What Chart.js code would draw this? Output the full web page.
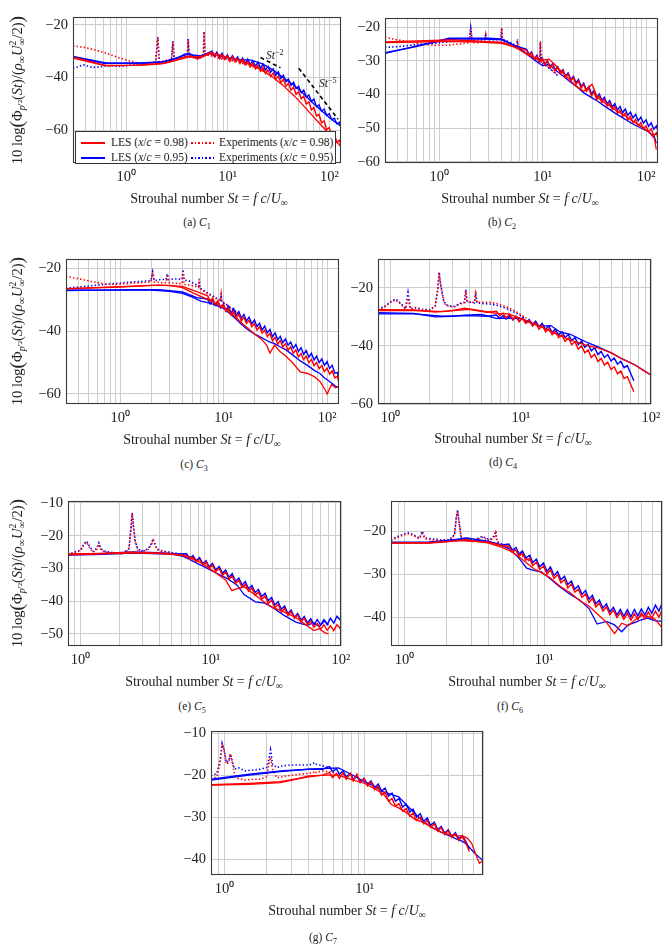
<!DOCTYPE html>
<html><head><meta charset="utf-8">
<script src="https://cdn.jsdelivr.net/npm/chart.js@4.4.0/dist/chart.umd.min.js"></script>
<style>
html,body{margin:0;padding:0;background:#fff;}
#page{position:relative;width:663px;height:948px;overflow:hidden;background:#fff;font-family:'Liberation Serif','Times New Roman',serif;color:#222;}
canvas{position:absolute;}
.t{position:absolute;white-space:nowrap;transform:translate(-50%,-50%);font-size:14px;line-height:1;}
.cap{font-size:11.5px;}
.yl{position:absolute;white-space:nowrap;transform:translate(-50%,-50%) rotate(-90deg);font-size:14.5px;line-height:1;}
.bp{font-size:135%;vertical-align:-0.08em;}
.st{display:inline-block;vertical-align:-0.4em;font-size:68%;line-height:0.95;text-align:left;}
.st span{display:block;}
sub{font-size:70%;vertical-align:-0.3em;line-height:0;}
sup{font-size:70%;vertical-align:0.5em;line-height:0;}
#leg{position:absolute;left:75px;top:131px;width:259px;height:31px;border:1px solid #333;background:#fff;font-size:11.5px;z-index:5;}
#leg .s{position:absolute;width:24px;height:1.6px;}
#leg .lt{position:absolute;white-space:nowrap;transform:translateY(-50%);line-height:1;}
.ann{position:absolute;white-space:nowrap;font-size:11.5px;line-height:1;z-index:5;}
</style>
</head><body>
<div id="page">
  <div class="yl" style="left:17px;top:90px;">10 log<span class="bp">(</span>Φ<sub><i>p</i>′²</sub>(<i>St</i>)/(<i>ρ</i><sub>∞</sub><i>U</i><span class="st"><span>2</span><span>∞</span></span>/2)<span class="bp">)</span></div>
  <div class="yl" style="left:17px;top:331px;">10 log<span class="bp">(</span>Φ<sub><i>p</i>′²</sub>(<i>St</i>)/(<i>ρ</i><sub>∞</sub><i>U</i><span class="st"><span>2</span><span>∞</span></span>/2)<span class="bp">)</span></div>
  <div class="yl" style="left:17px;top:573px;">10 log<span class="bp">(</span>Φ<sub><i>p</i>′²</sub>(<i>St</i>)/(<i>ρ</i><sub>∞</sub><i>U</i><span class="st"><span>2</span><span>∞</span></span>/2)<span class="bp">)</span></div>

  <div class="t" style="left:209px;top:199px;">Strouhal number <i>St</i> = <i>f c</i>/<i>U</i><sub>∞</sub></div>
  <div class="t" style="left:520px;top:199px;">Strouhal number <i>St</i> = <i>f c</i>/<i>U</i><sub>∞</sub></div>
  <div class="t" style="left:202px;top:440px;">Strouhal number <i>St</i> = <i>f c</i>/<i>U</i><sub>∞</sub></div>
  <div class="t" style="left:513px;top:439px;">Strouhal number <i>St</i> = <i>f c</i>/<i>U</i><sub>∞</sub></div>
  <div class="t" style="left:204px;top:682px;">Strouhal number <i>St</i> = <i>f c</i>/<i>U</i><sub>∞</sub></div>
  <div class="t" style="left:527px;top:682px;">Strouhal number <i>St</i> = <i>f c</i>/<i>U</i><sub>∞</sub></div>
  <div class="t" style="left:347px;top:911px;">Strouhal number <i>St</i> = <i>f c</i>/<i>U</i><sub>∞</sub></div>

  <div class="t cap" style="left:197px;top:223px;">(a) <i>C</i><sub>1</sub></div>
  <div class="t cap" style="left:502px;top:223px;">(b) <i>C</i><sub>2</sub></div>
  <div class="t cap" style="left:194px;top:465px;">(c) <i>C</i><sub>3</sub></div>
  <div class="t cap" style="left:503px;top:463px;">(d) <i>C</i><sub>4</sub></div>
  <div class="t cap" style="left:192px;top:707px;">(e) <i>C</i><sub>5</sub></div>
  <div class="t cap" style="left:510px;top:707px;">(f) <i>C</i><sub>6</sub></div>
  <div class="t cap" style="left:323px;top:938px;">(g) <i>C</i><sub>7</sub></div>

  <div class="ann" style="left:266px;top:50px;"><i>St</i><sup>−2</sup></div>
  <div class="ann" style="left:319px;top:78px;"><i>St</i><sup>−5</sup></div>

  <div id="leg">
    <span class="s" style="left:5px;top:10px;background:#ff0000;"></span>
    <span class="lt" style="left:35px;top:11px;">LES (<i>x</i>/<i>c</i> = 0.98)</span>
    <span class="s" style="left:115px;top:10px;background:repeating-linear-gradient(to right,#ff0000 0 1.6px,transparent 1.6px 3.6px);"></span>
    <span class="lt" style="left:143px;top:11px;">Experiments (<i>x</i>/<i>c</i> = 0.98)</span>
    <span class="s" style="left:5px;top:25px;background:#0000ff;"></span>
    <span class="lt" style="left:35px;top:26px;">LES (<i>x</i>/<i>c</i> = 0.95)</span>
    <span class="s" style="left:115px;top:25px;background:repeating-linear-gradient(to right,#0000ff 0 1.6px,transparent 1.6px 3.6px);"></span>
    <span class="lt" style="left:143px;top:26px;">Experiments (<i>x</i>/<i>c</i> = 0.95)</span>
  </div>
</div>
<script>
// ---------- shared St grids for the resolved (noisy) LES spectra ----------
const stHiABC = [0.3, 0.6, 1.2, 2.4, 4, 5.5, 7, 7.4, 7.8, 8.3, 8.8, 9.3, 9.9, 10.5, 11.1, 11.8, 12.5, 13.2, 14, 14.8, 15.7, 16.6, 17.6, 18.7, 19.8, 21, 22.2, 23.5, 24.9, 26.4, 28, 29.6, 31.4, 33.3, 35.2, 37.3, 39.5, 41.9, 44.4, 47, 49.8, 52.8, 55.9, 59.2, 62.8, 66.5, 70.4, 74.6, 79, 83.7, 88.7, 94, 99.6, 105.5, 111.8, 118.4, 125.5, 130];
const stHiDE = [0.8, 1.5, 2.5, 4, 5.5, 6.5, 6.9, 7.3, 7.7, 8.2, 8.7, 9.2, 9.7, 10.3, 10.9, 11.6, 12.3, 13, 13.8, 14.6, 15.5, 16.4, 17.4, 18.4, 19.5, 20.7, 21.9, 23.2, 24.6, 26.1, 27.6, 29.3, 31, 32.9, 34.8, 36.9, 39.1, 41.4, 43.9, 46.5, 49.3, 52.2, 55.3, 58.6, 62.1, 65.8, 69.7, 73.9, 78.3, 83, 87.9, 93.1, 98.7, 100];
const stHiFG = [0.8, 1.5, 2.5, 4, 5, 5.6, 5.9, 6.3, 6.6, 7, 7.4, 7.9, 8.3, 8.8, 9.3, 9.9, 10.5, 11.1, 11.8, 12.5, 13.2, 14, 14.8, 15.7, 16.6, 17.6, 18.7, 19.8, 21, 22.2, 23.5, 24.9, 26.4, 28, 29.6, 31.4, 33.3, 35.2, 37.3, 39.5, 41.9, 44.4, 47, 49.8, 52.8, 55.9, 59.2, 62.8, 66.5, 70];

// ---------- (a) C1 ----------
const stA_les = [0.3, 0.65, 1.5, 2.2, 3, 3.8, 4.3, 5, 5.6, 6.5, 8, 10, 13, 17, 22, 28, 35, 45, 55, 68, 80, 95, 110, 130];
const lesA_r1 = [-32.3, -35.6, -35.3, -34.8, -33.5, -32.2, -31.8, -33.0, -32.3, -31.0, -31.2, -32.3, -33.5, -35.2, -37.4, -40.0, -43.0, -47.0, -50.5, -54.5, -57.5, -60.5, -63.0, -66.5];
const lesA_b1 = [-32.0, -34.5, -34.5, -34.2, -33.2, -31.0, -31.0, -32.8, -31.5, -30.8, -31.5, -32.5, -33.2, -33.4, -34.8, -37.2, -40.0, -43.0, -46.0, -49.5, -52.0, -54.5, -56.5, -58.5];
const lesA_r2 = [-32.6, -35.4, -35.4, -34.6, -32.3, -32.0, -30.4, -32.2, -30.9, -32.9, -31.3, -33.1, -31.8, -33.9, -32.1, -34.0, -32.8, -34.7, -33.1, -35.2, -33.9, -36.0, -34.6, -36.7, -35.3, -37.6, -36.2, -38.5, -37.1, -39.5, -38.3, -40.8, -39.5, -42.0, -40.7, -43.3, -42.2, -44.8, -43.6, -46.4, -45.3, -48.1, -47.1, -50.1, -49.2, -52.3, -51.4, -54.6, -54.0, -57.2, -56.5, -59.8, -59.1, -62.3, -61.5, -64.6, -63.8, -66.0];
const lesA_b2 = [-32.2, -34.6, -34.6, -34.0, -31.2, -31.8, -30.0, -31.8, -30.4, -32.3, -30.8, -32.9, -31.4, -33.3, -31.7, -33.6, -32.2, -34.1, -32.6, -34.6, -33.0, -35.1, -33.6, -35.7, -34.3, -36.4, -34.9, -37.1, -35.8, -38.0, -36.7, -39.2, -37.8, -40.4, -39.1, -41.6, -40.6, -43.0, -41.8, -44.2, -43.3, -45.8, -44.8, -47.4, -46.6, -49.1, -48.2, -51.1, -50.4, -52.8, -52.0, -54.4, -53.8, -56.0, -55.5, -57.6, -57.0, -58.6];
const stA_exp = [0.3, 0.38, 0.47, 0.58, 0.72, 0.9, 1.1, 1.35, 1.65, 1.95, 2.05, 2.12, 2.4, 2.8, 2.88, 2.96, 3.3, 3.7, 4.0, 4.08, 4.16, 4.6, 5.2, 5.75, 5.85, 5.95, 6.6, 7.5, 8.5, 10, 12, 14.5, 17.5, 21, 25];
const expA_r = [-28.0, -28.5, -29.3, -30.3, -31.5, -32.8, -33.8, -34.6, -34.5, -34.0, -24.8, -34.0, -33.6, -33.0, -26.5, -33.0, -32.8, -32.4, -31.8, -25.8, -32.0, -32.5, -32.8, -31.8, -22.6, -31.5, -31.6, -32.0, -32.8, -33.3, -34.0, -34.8, -35.8, -37.0, -38.3];
const expA_b = [-36.5, -35.2, -36.2, -35.8, -35.5, -35.8, -35.3, -35.0, -34.6, -34.2, -24.6, -34.2, -33.8, -33.2, -26.2, -33.2, -32.6, -32.0, -31.2, -25.4, -31.4, -32.0, -32.6, -31.6, -22.4, -31.2, -31.4, -32.0, -32.6, -33.0, -33.6, -34.4, -35.4, -36.4, -37.5];
const refA_st2 = [21, 33], refA_y2 = [-32.4, -36.3];
const refA_st5 = [50, 122], refA_y5 = [-36.5, -55.9];

// ---------- (b) C2 ----------
const stB_les = [0.3, 1.25, 2, 3, 4, 5, 6, 7, 8.5, 10, 11.5, 13, 15, 18, 21, 25, 30, 34, 40, 50, 60, 75, 90, 105, 120, 125];
const lesB_r1 = [-24.4, -23.8, -24.0, -24.3, -24.5, -25.5, -26.8, -28.0, -29.2, -29.8, -29.5, -31.0, -33.0, -35.5, -37.5, -39.0, -37.0, -41.0, -42.5, -44.5, -46.0, -48.0, -49.5, -51.0, -53.0, -56.3];
const lesB_b1 = [-27.8, -23.3, -23.3, -23.3, -23.5, -25.0, -26.5, -28.0, -30.0, -31.5, -31.0, -32.5, -34.0, -36.0, -37.5, -39.5, -41.0, -42.0, -43.5, -45.5, -47.0, -48.8, -50.0, -51.0, -52.5, -54.5];
const lesB_r2 = [-24.6, -24.4, -24.2, -24.4, -24.8, -26.0, -26.9, -28.2, -27.7, -29.6, -28.6, -30.3, -29.3, -31.2, -30.1, -32.2, -31.0, -33.0, -32.0, -33.9, -32.9, -35.0, -33.9, -35.9, -35.0, -37.0, -35.9, -38.1, -37.0, -39.1, -38.2, -40.4, -39.3, -41.5, -40.4, -42.4, -41.5, -43.4, -42.5, -44.5, -43.5, -45.6, -44.6, -46.5, -45.5, -47.5, -46.4, -48.4, -47.4, -49.3, -48.3, -50.2, -49.3, -51.1, -50.2, -52.2, -51.3, -53.2];
const lesB_b2 = [-27.6, -25.8, -23.6, -23.5, -23.8, -25.6, -26.6, -28.2, -27.4, -29.4, -28.3, -30.1, -29.1, -31.0, -29.9, -31.9, -30.8, -32.7, -31.7, -33.6, -32.6, -34.6, -33.6, -35.5, -34.6, -36.5, -35.5, -37.6, -36.6, -38.6, -37.6, -39.8, -38.8, -40.9, -39.8, -41.7, -40.8, -42.7, -41.8, -43.7, -42.7, -44.6, -43.5, -45.4, -44.3, -46.2, -45.2, -46.9, -45.9, -47.8, -46.7, -48.5, -47.5, -49.4, -48.4, -50.3, -49.3, -50.9];
const stB_exp = [0.3, 0.4, 0.52, 0.68, 0.9, 1.2, 1.55, 1.95, 2.02, 2.09, 2.4, 2.75, 2.82, 2.9, 3.4, 3.95, 4.02, 4.09, 4.6, 5.2, 5.62, 5.7, 5.78, 6.5, 7.5, 8.5, 9.35, 9.5, 9.65, 10.5, 12, 14];
const expB_r = [-23.0, -23.8, -24.4, -25.0, -25.4, -25.4, -25.0, -24.6, -20.3, -24.6, -24.6, -24.4, -22.2, -24.4, -24.5, -24.4, -20.4, -24.4, -24.8, -25.4, -25.8, -23.8, -26.0, -27.2, -28.4, -29.4, -30.0, -24.2, -30.4, -31.0, -32.4, -34.2];
const expB_b = [-26.0, -25.8, -25.4, -25.0, -24.8, -24.4, -24.2, -24.0, -20.2, -24.0, -23.8, -23.8, -22.0, -23.8, -23.7, -23.6, -20.2, -23.6, -24.2, -25.0, -25.6, -23.6, -25.8, -27.0, -28.4, -29.6, -30.2, -24.4, -30.6, -31.2, -32.6, -34.4];

// ---------- (c) C3 ----------
const stC_les = [0.3, 1, 2, 3, 4, 5, 6, 7, 8, 10, 11.5, 13, 15, 17, 20, 23, 26, 28, 31, 35, 40, 46, 55, 65, 75, 85, 95, 100, 110, 120, 130];
const lesC_r1 = [-26.5, -26.0, -25.5, -25.5, -26.2, -27.8, -29.0, -30.0, -30.8, -32.5, -34.0, -35.5, -37.5, -39.0, -41.0, -42.5, -44.5, -47.0, -44.5, -46.5, -48.0, -50.0, -53.0, -53.5, -54.5, -56.0, -58.5, -60.0, -57.0, -58.0, -57.5];
const lesC_b1 = [-27.0, -27.0, -27.0, -27.4, -28.0, -29.2, -30.5, -31.0, -31.5, -32.8, -34.5, -36.0, -38.0, -39.5, -41.0, -42.0, -43.0, -43.5, -44.0, -45.0, -46.0, -47.5, -49.5, -51.0, -52.5, -53.5, -55.0, -55.5, -56.5, -57.5, -58.0];
const lesC_r2 = [-26.6, -26.2, -25.8, -25.4, -25.8, -27.5, -28.8, -30.4, -29.6, -31.5, -30.3, -32.6, -31.6, -33.8, -32.6, -35.0, -33.8, -35.9, -34.7, -36.8, -35.6, -37.6, -36.6, -38.6, -37.6, -39.7, -38.6, -40.7, -39.7, -41.8, -40.7, -43.1, -42.0, -44.2, -43.0, -45.1, -44.0, -46.1, -45.0, -47.1, -46.0, -48.2, -47.1, -49.1, -48.0, -50.1, -49.0, -51.0, -50.0, -52.0, -51.0, -52.9, -51.8, -53.7, -52.6, -54.9, -54.4, -56.6];
const lesC_b2 = [-27.1, -27.0, -26.9, -26.9, -27.6, -29.4, -29.8, -31.4, -30.3, -31.9, -30.8, -32.6, -31.4, -33.4, -32.1, -34.3, -32.9, -35.0, -33.8, -35.9, -34.7, -36.8, -35.6, -37.7, -36.5, -38.6, -37.5, -39.7, -38.4, -40.6, -39.5, -41.8, -40.6, -42.8, -41.7, -43.7, -42.5, -44.5, -43.5, -45.5, -44.3, -46.5, -45.3, -47.4, -46.2, -48.3, -47.1, -49.2, -48.0, -50.0, -48.9, -50.9, -49.7, -51.9, -50.9, -53.4, -53.2, -55.6];
const stC_exp = [0.3, 0.4, 0.52, 0.7, 0.95, 1.3, 1.7, 1.98, 2.06, 2.14, 2.45, 2.78, 2.86, 2.94, 3.4, 3.95, 4.05, 4.15, 4.7, 5.3, 5.72, 5.8, 5.88, 6.6, 7.6, 8.6, 9.3, 9.45, 9.6, 10.5, 12, 14];
const expC_r = [-22.6, -23.4, -24.2, -25.0, -25.2, -24.8, -24.6, -24.4, -21.4, -24.4, -24.6, -24.6, -22.0, -24.6, -24.8, -25.0, -21.0, -25.2, -25.4, -25.8, -26.2, -23.6, -26.6, -27.6, -28.8, -29.8, -30.4, -28.4, -30.8, -31.6, -33.0, -34.8];
const expC_b = [-26.4, -26.0, -25.6, -25.2, -24.8, -24.4, -24.2, -24.0, -21.2, -24.0, -23.6, -23.6, -21.8, -23.6, -23.4, -23.6, -20.4, -23.8, -24.2, -25.0, -25.8, -23.4, -26.2, -27.4, -28.6, -29.6, -30.2, -28.0, -30.6, -31.4, -32.8, -34.6];

// ---------- (d) C4 ----------
const stD_les = [0.8, 1.5, 2.2, 3, 3.7, 5, 6.5, 8, 10, 12, 14, 17, 20, 24, 28, 33, 40, 50, 60, 75, 88, 100];
const lesD_r1 = [-27.5, -27.6, -28.4, -27.8, -27.0, -28.0, -28.8, -29.0, -30.5, -32.0, -33.2, -35.0, -36.5, -38.0, -39.0, -40.0, -40.8, -42.5, -44.5, -46.5, -48.5, -50.0];
const lesD_b1 = [-28.6, -28.8, -30.0, -29.8, -29.4, -29.2, -30.5, -30.4, -30.6, -32.2, -33.2, -33.0, -35.2, -36.0, -37.5, -39.0, -40.5, -42.5, -44.5, -46.5, -48.5, -50.0];
const lesD_r2 = [-27.8, -27.8, -28.2, -27.4, -28.4, -28.1, -29.6, -28.7, -30.4, -29.1, -31.0, -29.7, -31.7, -30.5, -32.3, -31.3, -33.2, -32.1, -34.3, -33.0, -35.2, -34.1, -36.2, -35.0, -37.2, -36.2, -38.4, -37.3, -39.6, -38.6, -41.1, -40.0, -42.4, -41.4, -44.0, -42.9, -45.4, -44.3, -46.6, -45.6, -48.1, -47.2, -49.6, -48.6, -51.2, -50.6, -53.2, -55.8];
const lesD_b2 = [-29.0, -29.0, -29.8, -29.6, -29.8, -29.4, -30.6, -29.6, -30.8, -29.6, -31.1, -30.0, -31.4, -30.3, -31.9, -30.9, -32.6, -31.5, -33.4, -32.3, -34.3, -33.2, -35.3, -34.2, -36.2, -35.2, -37.1, -36.1, -38.2, -37.2, -39.5, -38.3, -40.5, -39.5, -41.7, -40.6, -43.0, -41.9, -44.0, -43.0, -45.2, -44.2, -46.3, -45.3, -47.5, -46.8, -49.4, -52.0];
const stD_exp = [0.8, 0.9, 1.0, 1.09, 1.2, 1.3, 1.36, 1.42, 1.55, 1.75, 2.0, 2.2, 2.3, 2.36, 2.42, 2.48, 2.55, 2.65, 2.8, 3.1, 3.4, 3.7, 3.78, 3.86, 4.1, 4.4, 4.5, 4.6, 5.0, 5.8, 6.8, 8, 9.5, 11];
const expD_r = [-27.8, -26.6, -25.0, -24.2, -25.6, -27.4, -23.6, -27.4, -27.0, -27.6, -27.8, -26.4, -21.0, -15.0, -19.0, -21.6, -24.4, -26.0, -26.4, -26.6, -25.6, -25.2, -21.0, -24.8, -25.0, -25.0, -22.0, -25.0, -25.0, -25.0, -25.6, -26.8, -28.6, -30.4];
const expD_b = [-27.4, -26.4, -24.8, -23.8, -25.4, -27.2, -21.6, -27.2, -26.8, -27.4, -27.6, -26.2, -20.6, -14.6, -18.6, -21.2, -24.2, -25.8, -26.2, -26.4, -25.4, -25.0, -20.6, -24.6, -25.0, -25.2, -21.4, -25.2, -25.4, -25.6, -26.2, -27.4, -29.0, -30.8];

// ---------- (e) C5 ----------
const stE_les = [0.8, 1.5, 2, 2.6, 3.5, 5, 6, 7, 8, 9, 11, 13, 14.5, 16, 18, 22, 26, 30, 36, 45, 55, 62, 68, 75, 80];
const lesE_r1 = [-25.6, -25.4, -25.2, -25.0, -25.4, -25.6, -26.0, -26.8, -27.8, -29.0, -31.5, -33.5, -36.8, -36.2, -35.6, -38.2, -40.4, -42.0, -43.2, -45.0, -47.5, -49.0, -48.4, -49.6, -50.0];
const lesE_b1 = [-25.9, -25.7, -25.5, -25.3, -25.5, -25.6, -26.2, -27.4, -28.6, -29.6, -31.4, -32.8, -34.0, -35.2, -38.0, -40.2, -40.6, -42.0, -44.2, -46.4, -47.4, -46.6, -47.8, -46.0, -47.2];
const lesE_r2 = [-25.8, -25.5, -25.2, -25.3, -25.8, -26.0, -27.2, -26.6, -28.0, -27.2, -28.9, -28.0, -29.9, -29.0, -31.0, -30.0, -32.1, -31.1, -33.3, -32.3, -34.6, -33.6, -35.8, -34.8, -37.0, -36.0, -38.2, -37.2, -39.4, -38.4, -40.7, -39.7, -42.0, -41.0, -43.3, -42.2, -44.4, -43.2, -45.3, -44.2, -46.4, -45.2, -47.2, -46.1, -48.0, -46.8, -48.6, -47.2, -48.9, -47.5, -49.0, -47.2, -48.4, -46.8];
const lesE_b2 = [-25.7, -25.4, -25.0, -25.2, -25.6, -25.5, -26.9, -26.1, -27.6, -26.7, -28.5, -27.6, -29.5, -28.5, -30.4, -29.4, -31.5, -30.5, -32.7, -31.6, -34.0, -32.9, -35.1, -34.0, -36.2, -35.2, -37.4, -36.4, -38.6, -37.6, -39.9, -38.9, -41.2, -40.2, -42.5, -41.5, -43.8, -42.7, -44.9, -43.8, -45.8, -44.7, -46.6, -45.4, -47.2, -45.6, -47.3, -45.6, -47.2, -45.2, -46.7, -44.6, -45.8, -43.8];
const stE_exp = [0.8, 0.9, 1.0, 1.06, 1.11, 1.17, 1.25, 1.33, 1.38, 1.43, 1.55, 1.8, 2.1, 2.35, 2.43, 2.49, 2.55, 2.62, 2.75, 3.0, 3.3, 3.5, 3.6, 3.7, 3.85, 4.2, 4.8, 5.5, 6.5, 7.5];
const expE_r = [-26.0, -25.2, -24.6, -22.8, -22.0, -23.6, -25.0, -24.2, -22.6, -24.4, -25.0, -25.4, -25.6, -24.2, -18.4, -13.2, -17.6, -21.8, -24.4, -24.8, -24.2, -22.8, -21.4, -22.6, -24.2, -24.8, -25.2, -25.6, -26.4, -27.2];
const expE_b = [-25.8, -25.0, -24.4, -22.4, -21.6, -23.2, -24.8, -23.8, -22.2, -24.0, -24.8, -25.2, -25.4, -24.0, -18.0, -13.0, -17.2, -21.4, -24.2, -24.6, -24.0, -22.4, -21.0, -22.2, -24.0, -24.6, -25.0, -25.4, -26.2, -27.0];

// ---------- (f) C6 ----------
const stF_les = [0.8, 1.5, 2, 2.8, 4, 5, 5.7, 6.5, 7.5, 8.5, 9.5, 11, 13, 15.5, 18, 21, 24, 28, 32, 36, 40, 45, 50, 55, 62, 70];
const lesF_r1 = [-22.8, -22.8, -22.5, -22.0, -22.8, -23.8, -24.6, -25.8, -27.4, -28.8, -29.6, -30.8, -32.8, -34.4, -36.2, -37.4, -39.2, -41.2, -43.8, -41.4, -42.0, -40.6, -39.6, -39.8, -40.4, -42.4];
const lesF_b1 = [-22.7, -22.7, -22.2, -21.6, -22.4, -23.4, -24.2, -26.0, -28.6, -29.2, -29.4, -31.0, -33.0, -34.8, -36.0, -38.0, -41.6, -41.0, -41.8, -43.4, -41.8, -41.2, -40.6, -40.2, -40.8, -41.0];
const lesF_r2 = [-22.8, -22.7, -22.2, -22.6, -23.4, -23.5, -24.8, -24.4, -25.8, -25.2, -26.8, -26.3, -28.0, -27.2, -28.9, -28.1, -30.0, -29.0, -31.0, -30.1, -32.0, -31.3, -33.2, -32.3, -34.2, -33.5, -35.4, -34.6, -36.6, -35.6, -37.6, -36.7, -38.6, -37.6, -39.4, -38.4, -40.1, -38.9, -40.5, -39.1, -40.7, -39.2, -40.6, -39.0, -40.4, -38.8, -40.2, -38.6, -40.0, -38.4];
const lesF_b2 = [-22.6, -22.5, -22.0, -22.4, -23.2, -23.0, -24.4, -23.8, -25.3, -24.6, -26.2, -25.6, -27.3, -26.5, -28.3, -27.4, -29.4, -28.3, -30.3, -29.4, -31.3, -30.5, -32.4, -31.6, -33.5, -32.7, -34.7, -33.8, -35.8, -34.9, -36.9, -36.0, -37.9, -36.9, -38.8, -37.7, -39.5, -38.2, -39.8, -38.3, -39.9, -38.2, -39.7, -38.1, -39.5, -37.7, -39.1, -37.2, -38.6, -36.8];
const stF_exp = [0.8, 0.9, 1.0, 1.08, 1.18, 1.28, 1.34, 1.4, 1.55, 1.8, 2.1, 2.28, 2.35, 2.4, 2.46, 2.55, 2.75, 3.1, 3.4, 3.6, 3.8, 4.1, 4.4, 4.5, 4.6, 5.0, 5.7, 6.5, 7.5, 8.5];
const expF_r = [-22.2, -21.4, -20.8, -20.6, -21.2, -21.8, -20.6, -21.8, -22.0, -22.2, -22.2, -21.0, -17.0, -15.4, -18.2, -21.6, -22.0, -22.4, -21.8, -21.4, -21.8, -22.2, -21.4, -20.4, -22.6, -23.2, -24.0, -25.0, -26.4, -27.8];
const expF_b = [-22.0, -21.2, -20.6, -20.4, -21.0, -21.6, -20.0, -21.6, -21.8, -22.0, -22.0, -20.8, -16.6, -15.0, -17.8, -21.4, -21.8, -22.2, -21.6, -21.2, -21.6, -22.0, -21.0, -20.0, -22.4, -23.0, -23.8, -24.8, -26.2, -27.6];

// ---------- (g) C7 ----------
const stG_les = [0.8, 1.5, 2.5, 3.2, 4, 5.5, 6.5, 8, 10, 12, 13.6, 15.5, 17.5, 20, 23, 26, 30, 35, 40, 45, 50, 54, 58, 62, 66, 70];
const lesG_r1 = [-22.4, -22.2, -21.8, -21.0, -20.2, -20.0, -20.0, -21.0, -22.0, -23.4, -24.5, -27.0, -27.8, -29.0, -30.6, -31.2, -32.4, -33.6, -34.2, -34.4, -34.5, -35.0, -36.2, -38.8, -41.0, -40.4];
const lesG_b1 = [-21.2, -20.0, -19.2, -18.9, -18.6, -18.4, -18.3, -19.8, -21.6, -22.8, -24.0, -24.6, -25.2, -27.2, -29.2, -31.0, -32.4, -33.6, -34.4, -35.2, -35.8, -36.6, -37.8, -38.8, -39.6, -40.4];
const lesG_r2 = [-22.3, -22.0, -21.6, -20.4, -20.0, -19.4, -20.6, -19.6, -20.8, -19.5, -21.0, -19.6, -21.4, -19.8, -21.8, -20.8, -22.6, -21.6, -23.5, -22.6, -24.8, -24.0, -26.2, -25.6, -27.4, -26.8, -28.6, -28.0, -29.8, -29.0, -30.8, -30.0, -31.6, -30.8, -32.5, -31.6, -33.4, -32.5, -34.2, -33.2, -34.9, -34.0, -35.6, -34.6, -36.2, -38.2];
const lesG_b2 = [-21.0, -19.8, -19.0, -18.6, -18.6, -18.0, -19.2, -18.5, -19.8, -19.0, -20.4, -19.6, -21.0, -20.2, -21.6, -20.8, -22.2, -21.4, -23.0, -22.1, -23.8, -23.1, -25.0, -24.3, -26.2, -25.6, -27.6, -26.9, -28.8, -28.1, -30.0, -29.2, -31.0, -30.2, -32.0, -31.2, -33.0, -32.2, -33.8, -33.0, -34.6, -33.7, -35.1, -34.4, -35.8, -37.6];
const stG_exp = [0.8, 0.88, 0.93, 0.96, 0.99, 1.03, 1.07, 1.1, 1.13, 1.18, 1.25, 1.4, 1.6, 1.8, 2.0, 2.08, 2.13, 2.2, 2.35, 2.6, 3.0, 3.5, 4.0, 4.3, 4.4, 4.5, 5.0, 5.6, 6.3];
const expG_r = [-21.0, -20.4, -17.0, -12.6, -14.0, -17.4, -17.0, -15.0, -16.8, -20.0, -20.8, -21.2, -21.0, -21.0, -20.4, -17.0, -15.8, -18.6, -20.6, -20.4, -20.0, -19.8, -19.6, -19.4, -19.0, -19.4, -19.0, -19.2, -19.6];
const expG_b = [-20.2, -19.6, -16.4, -12.4, -13.8, -17.0, -16.6, -15.0, -16.4, -18.6, -18.2, -19.0, -18.8, -18.6, -18.2, -16.0, -14.0, -17.4, -18.2, -17.8, -17.6, -17.6, -17.6, -17.2, -17.0, -17.4, -17.8, -18.2, -18.6];

// ---------- axis ticks ----------
const yTicksA = [-60, -40, -20];
const yTicksB = [-60, -50, -40, -30, -20];
const yTicksC = [-60, -40, -20];
const yTicksD = [-60, -40, -20];
const yTicksE = [-50, -40, -30, -20, -10];
const yTicksF = [-40, -30, -20];
const yTicksG = [-40, -30, -20, -10];
const xLabelDecades = {0: '10⁰', 1: '10¹', 2: '10²'};

// ---------- helpers ----------
const RED = '#ff0000', BLUE = '#0000ff';
function pts(xs, ys) { const n = Math.min(xs.length, ys.length); const o = []; for (let i = 0; i < n; i++) o.push({x: xs[i], y: ys[i]}); return o; }
function les(xs, ys, c, w) { return {data: pts(xs, ys), borderColor: c, borderWidth: w || 1.3, pointRadius: 0, fill: false, tension: 0}; }
function exper(xs, ys, c) { return {data: pts(xs, ys), borderColor: c, borderWidth: 1.6, borderDash: [1.4, 2.2], pointRadius: 0, fill: false, tension: 0}; }
function refl(xs, ys) { return {data: pts(xs, ys), borderColor: '#000', borderWidth: 1.6, borderDash: [4, 3], pointRadius: 0, fill: false}; }
function logTicks(min, max) {
  const t = [];
  for (let d = Math.floor(Math.log10(min)); d <= Math.ceil(Math.log10(max)); d++)
    for (let m = 1; m <= 9; m++) { const v = +(m * Math.pow(10, d)).toPrecision(6); if (v >= min - 1e-9 && v <= max + 1e-9) t.push(v); }
  return t;
}
function fmtX(v) { const e = Math.log10(v), r = Math.round(e); return (Math.abs(e - r) < 1e-6 && xLabelDecades[r] !== undefined) ? xLabelDecades[r] : ''; }
const boxPlugin = {id: 'box', afterDraw(c) { const a = c.chartArea, ctx = c.ctx; ctx.save(); ctx.strokeStyle = '#3a3a3a'; ctx.lineWidth = 1.1; ctx.strokeRect(Math.round(a.left) + 0.5, Math.round(a.top) + 0.5, Math.round(a.right - a.left) - 1, Math.round(a.bottom - a.top) - 1); ctx.restore(); }};
const FONT = {family: "'Liberation Serif', 'Times New Roman', serif", size: 14.5};

function makePanel(p) {
  const PL = 62, PT = 8, PR = 14, PB = 34;
  const W = p.rect[2] - p.rect[0], H = p.rect[3] - p.rect[1];
  const cv = document.createElement('canvas');
  cv.width = W + PL + PR; cv.height = H + PT + PB;
  cv.style.left = (p.rect[0] - PL) + 'px'; cv.style.top = (p.rect[1] - PT) + 'px';
  cv.style.width = cv.width + 'px'; cv.style.height = cv.height + 'px';
  const page = document.getElementById('page');
  page.insertBefore(cv, page.firstChild);
  new Chart(cv.getContext('2d'), {
    type: 'line',
    data: {datasets: p.datasets},
    options: {
      responsive: false, animation: false, devicePixelRatio: 1, events: [],
      layout: {padding: {left: 0, top: PT, right: PR, bottom: 0}},
      plugins: {legend: {display: false}, tooltip: {enabled: false}},
      elements: {point: {radius: 0}},
      scales: {
        x: {type: 'logarithmic', min: p.x[0], max: p.x[1],
            grid: {color: '#cdcdcd', lineWidth: 1, drawTicks: false},
            border: {display: false},
            ticks: {font: FONT, color: '#222', padding: 5, autoSkip: false, maxRotation: 0, minRotation: 0, callback: (v) => fmtX(v)},
            afterBuildTicks: (s) => { s.ticks = logTicks(p.x[0], p.x[1]).map(v => ({value: v})); },
            afterFit: (s) => { s.height = PB; s.paddingLeft = 0; s.paddingRight = 0; }},
        y: {type: 'linear', min: p.y[0], max: p.y[1],
            grid: {color: '#cdcdcd', lineWidth: 1, drawTicks: false},
            border: {display: false},
            ticks: {font: FONT, color: '#222', padding: 5, callback: (v) => (v < 0 ? '−' + Math.abs(v) : '' + v)},
            afterBuildTicks: (s) => { s.ticks = p.yt.map(v => ({value: v})); },
            afterFit: (s) => { s.width = PL; s.paddingTop = 0; s.paddingBottom = 0; }}
      }
    },
    plugins: [boxPlugin]
  });
}

const NW = 1.4;
const panels = [
  {rect: [73, 17, 341, 163], x: [0.3, 130], y: [-72.5, -17], yt: yTicksA, datasets: [
    les(stA_les, lesA_r1, RED), les(stHiABC, lesA_r2, RED, NW), les(stA_les, lesA_b1, BLUE), les(stHiABC, lesA_b2, BLUE, NW),
    exper(stA_exp, expA_r, RED), exper(stA_exp, expA_b, BLUE), refl(refA_st2, refA_y2), refl(refA_st5, refA_y5)]},
  {rect: [385, 18, 658, 163], x: [0.3, 130], y: [-60.3, -17.3], yt: yTicksB, datasets: [
    les(stB_les, lesB_r1, RED), les(stHiABC, lesB_r2, RED, NW), les(stB_les, lesB_b1, BLUE), les(stHiABC, lesB_b2, BLUE, NW),
    exper(stB_exp, expB_r, RED), exper(stB_exp, expB_b, BLUE)]},
  {rect: [66, 259, 339, 404], x: [0.3, 130], y: [-63.2, -17.1], yt: yTicksC, datasets: [
    les(stC_les, lesC_r1, RED), les(stHiABC, lesC_r2, RED, NW), les(stC_les, lesC_b1, BLUE), les(stHiABC, lesC_b2, BLUE, NW),
    exper(stC_exp, expC_r, RED), exper(stC_exp, expC_b, BLUE)]},
  {rect: [378, 259, 651, 404], x: [0.8, 100], y: [-60, -10.1], yt: yTicksD, datasets: [
    les(stD_les, lesD_r1, RED), les(stHiDE, lesD_r2, RED, NW), les(stD_les, lesD_b1, BLUE), les(stHiDE, lesD_b2, BLUE, NW),
    exper(stD_exp, expD_r, RED), exper(stD_exp, expD_b, BLUE)]},
  {rect: [68, 501, 341, 646], x: [0.8, 100], y: [-53.7, -9.4], yt: yTicksE, datasets: [
    les(stE_les, lesE_r1, RED), les(stHiDE, lesE_r2, RED, NW), les(stE_les, lesE_b1, BLUE), les(stHiDE, lesE_b2, BLUE, NW),
    exper(stE_exp, expE_r, RED), exper(stE_exp, expE_b, BLUE)]},
  {rect: [391, 501, 662, 646], x: [0.8, 70], y: [-46.7, -13], yt: yTicksF, datasets: [
    les(stF_les, lesF_r1, RED), les(stHiFG, lesF_r2, RED, NW), les(stF_les, lesF_b1, BLUE), les(stHiFG, lesF_b2, BLUE, NW),
    exper(stF_exp, expF_r, RED), exper(stF_exp, expF_b, BLUE)]},
  {rect: [211, 731, 483, 875], x: [0.8, 70], y: [-43.8, -9.5], yt: yTicksG, datasets: [
    les(stG_les, lesG_r1, RED), les(stHiFG, lesG_r2, RED, NW), les(stG_les, lesG_b1, BLUE), les(stHiFG, lesG_b2, BLUE, NW),
    exper(stG_exp, expG_r, RED), exper(stG_exp, expG_b, BLUE)]}
];
panels.forEach(makePanel);
</script>
</body></html>
